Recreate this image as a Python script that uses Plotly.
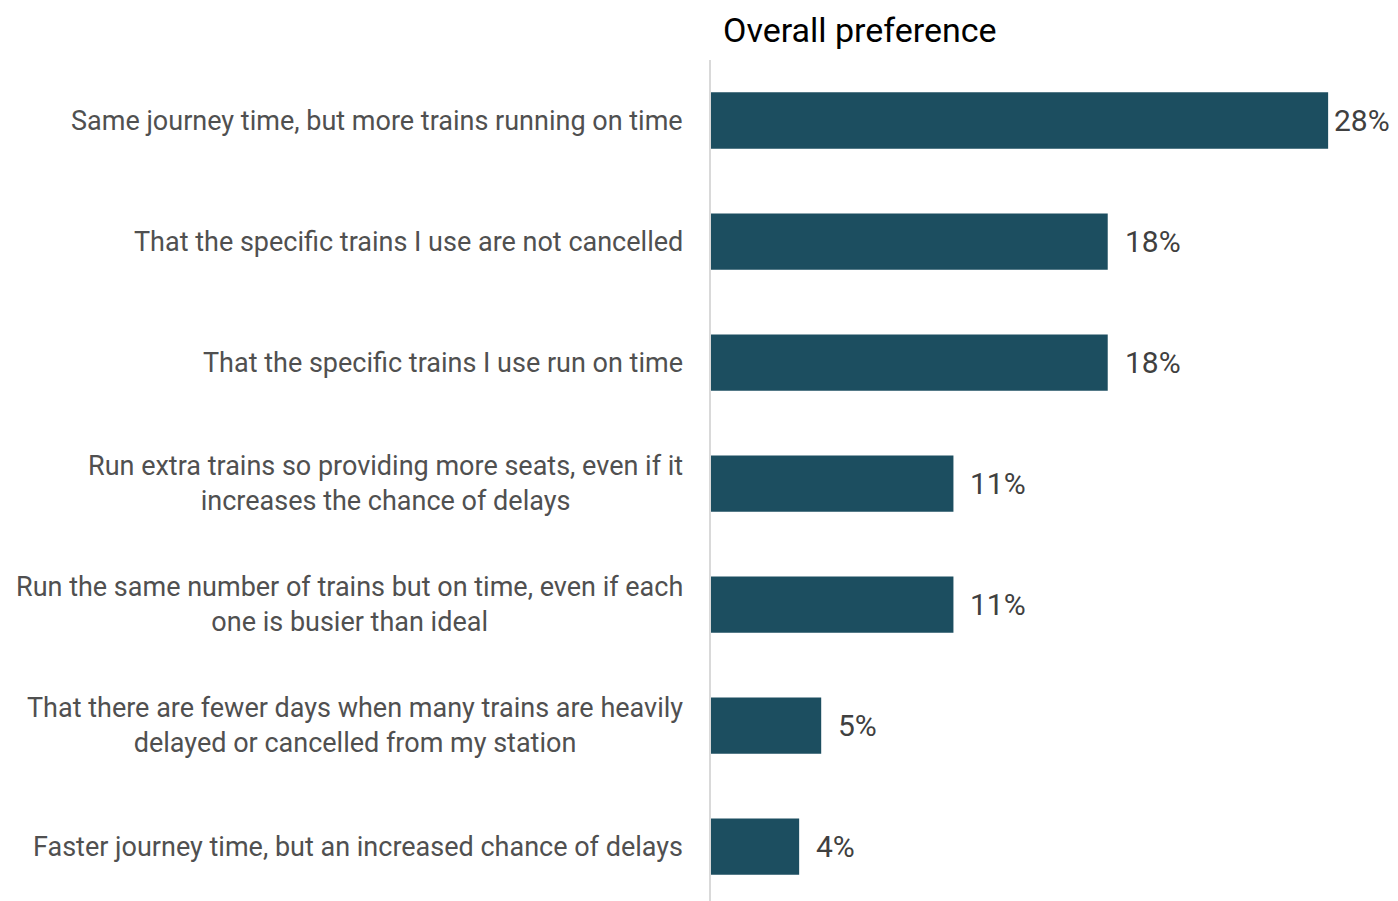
import plotly.graph_objects as go

categories = [
    "Same journey time, but more trains running on time",
    "That the specific trains I use are not cancelled",
    "That the specific trains I use run on time",
    "Run extra trains so providing more seats, even if it<br>increases the chance of delays",
    "Run the same number of trains but on time, even if each<br>one is busier than ideal",
    "That there are fewer days when many trains are heavily<br>delayed or cancelled from my station",
    "Faster journey time, but an increased chance of delays",
]
values = [28, 18, 18, 11, 11, 5, 4]
value_labels = ["28%", "18%", "18%", "11%", "11%", "5%", "4%"]
title_text = "Overall preference"

BAR = "#1C4E60"
TXT = "#505050"
VAL = "#404040"
FONT = "Roboto, Liberation Sans, sans-serif"

fig = go.Figure()
fig.add_trace(go.Bar(
    x=values, y=categories, orientation="h",
    marker=dict(color=BAR, line=dict(width=0)),
    hoverinfo="skip",
))

annotations = []
for cat in categories:
    annotations.append(dict(
        x=0, xref="paper", y=cat, yref="y", text=cat,
        xanchor="right", yanchor="middle", align="center",
        xshift=-26, showarrow=False,
        font=dict(family=FONT, size=27, color=TXT),
    ))
for cat, v, lab in zip(categories, values, value_labels):
    annotations.append(dict(
        x=v, xref="x", y=cat, yref="y", text=lab,
        xanchor="left", yanchor="middle",
        xshift=4 if v == max(values) else 15, showarrow=False,
        font=dict(family=FONT, size=30, color=VAL),
    ))
annotations.append(dict(
    x=10 / 687, xref="paper", y=1, yref="paper",
    text=title_text, showarrow=False,
    xanchor="left", yanchor="middle", yshift=30,
    font=dict(family=FONT, size=34, color="#000000"),
))

fig.update_layout(
    width=1390, height=893,
    margin=dict(l=703, r=0, t=52, b=0),
    paper_bgcolor="white", plot_bgcolor="white",
    showlegend=False,
    bargap=0.535,
    annotations=annotations,
    xaxis=dict(range=[0, 31.17], visible=False, fixedrange=True),
    yaxis=dict(
        categoryorder="array", categoryarray=categories[::-1],
        range=[-0.45, 6.5],
        showticklabels=False, showgrid=False, zeroline=False,
        showline=True, linecolor="#D9D9D9", linewidth=2, ticks="",
    ),
)

fig.write_html("out.html")
